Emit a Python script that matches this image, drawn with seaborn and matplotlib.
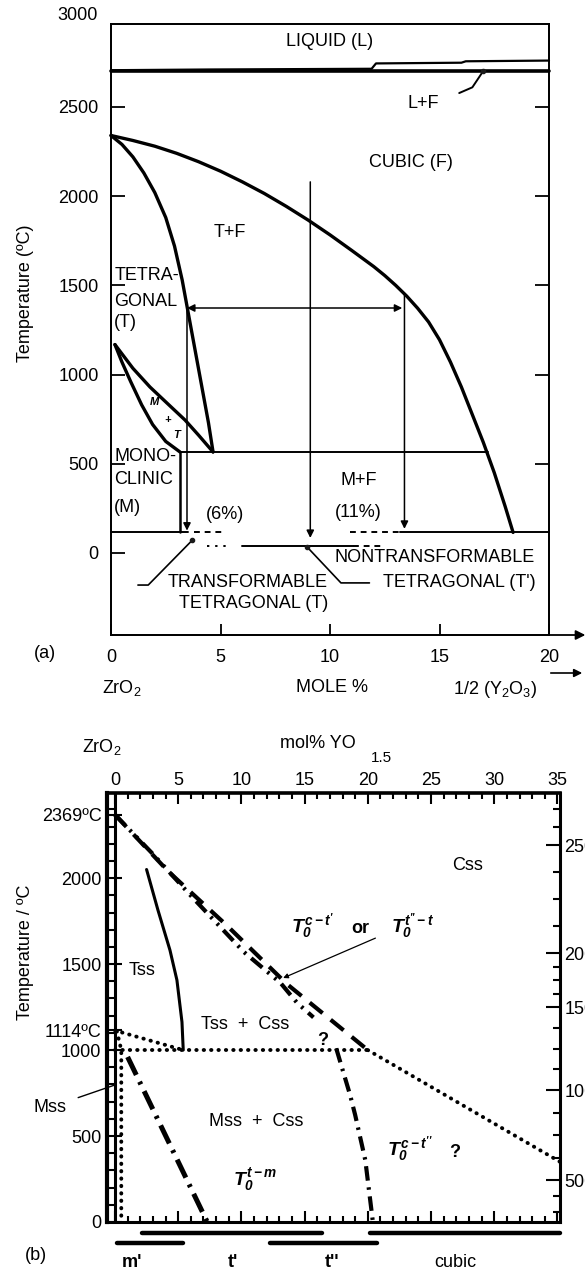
import numpy as np
import pandas as pd
import matplotlib
matplotlib.use("Agg")
import matplotlib.pyplot as plt
import seaborn as sns

# ---------------- panel (a) data ----------------
a_liq_lower_x = [0, 20]
a_liq_lower_T = [2702, 2702]
a_liq_upper_x = [0, 4.5, 11.9, 12.1, 16.0, 16.2, 20]
a_liq_upper_T = [2706, 2710, 2714, 2744, 2748, 2756, 2760]
a_cubic_x = [0, 1, 2, 3, 4, 5, 6, 7, 8, 9, 10, 11, 12, 12.5, 13, 13.5, 14, 14.5,
             15, 15.5, 16, 16.5, 17, 17.5, 18, 18.36]
a_cubic_T = [2340, 2312, 2280, 2240, 2193, 2140, 2080, 2015, 1943, 1866, 1783, 1695, 1605,
             1555, 1500, 1440, 1372, 1295, 1195, 1070, 930, 775, 620, 450, 260, 115]
a_tetra_x = [0, 0.5, 1.0, 1.5, 2.0, 2.5, 2.9, 3.25, 3.55, 3.85, 4.15, 4.45, 4.66]
a_tetra_T = [2340, 2290, 2220, 2130, 2020, 1880, 1720, 1530, 1330, 1130, 930, 730, 566]
a_mt_upper_x = [0.18, 1.0, 1.78, 2.6, 3.38, 4.0, 4.66]
a_mt_upper_T = [1168, 1035, 930, 835, 745, 660, 566]
a_mt_lower_x = [0.18, 0.5, 0.9, 1.4, 1.9, 2.5, 3.15]
a_mt_lower_T = [1168, 1070, 960, 830, 720, 625, 566]
a_eutectoid_x = [3.15, 17.2]
a_eutectoid_T = [566, 566]
a_mono_x = [3.15, 3.15]
a_mono_T = [566, 118]
# base lines: (x0, x1, T, style)
a_base_segments = [(0, 3.5, 118, "solid"), (3.8, 5.1, 118, "dashed"),
                   (10.9, 13.2, 118, "dashed"), (13.2, 20, 118, "solid"),
                   (4.4, 5.5, 40, "dotted"), (6.0, 11.05, 40, "solid"),
                   (11.05, 12.4, 40, "dashed")]
# arrows: (x_start, T_start, x_end, T_end, style)
a_arrows = [(3.47, 1373, 3.47, 125, "-|>"), (9.1, 2080, 9.1, 84, "-|>"),
            (13.4, 1446, 13.4, 135, "-|>"), (3.47, 1373, 13.3, 1373, "<|-|>")]
a_lf_leader_x = [15.9, 16.5, 17.0]
a_lf_leader_T = [2578, 2610, 2702]
a_trans_leader_x = [1.23, 1.7, 3.7]
a_trans_leader_T = [-180, -180, 70]
a_nontrans_leader_x = [8.95, 10.5, 11.8]
a_nontrans_leader_T = [34, -168, -168]
a_labels = [("LIQUID (L)", 10.0, 2865, "center"), ("L+F", 14.25, 2522, "center"),
            ("CUBIC (F)", 13.7, 2186, "center"), ("T+F", 5.43, 1794, "center"),
            ("TETRA-", 0.15, 1553, "left"), ("GONAL", 0.15, 1407, "left"),
            ("(T)", 0.15, 1290, "left"), ("MONO-", 0.15, 538, "left"),
            ("CLINIC", 0.15, 409, "left"), ("(M)", 0.15, 252, "left"),
            ("(6%)", 5.2, 213, "center"), ("M+F", 11.3, 404, "center"),
            ("(11%)", 11.3, 224, "center"),
            ("TRANSFORMABLE", 6.26, -168, "center"), ("TETRAGONAL (T)", 6.5, -285, "center"),
            ("NONTRANSFORMABLE", 14.8, -28, "center"), ("TETRAGONAL (T')", 15.9, -163, "center")]
a_small_labels = [("M", 2.0, 846), ("+", 2.6, 745), ("T", 3.0, 661)]
a_yticks = [0, 500, 1000, 1500, 2000, 2500]
a_xticks = [0, 5, 10, 15, 20]

# ---------------- panel (b) data ----------------
b_tss_x = [2.5, 3.4, 4.35, 4.9, 5.3, 5.4]
b_tss_T = [2050, 1814, 1581, 1407, 1163, 1000]
b_ct1_x = [0, 4.2, 8.9, 13.6, 20.0]
b_ct1_T = [2369, 2040, 1721, 1384, 1000]
b_tt_x = [0, 3.0, 6.1, 10.2, 13.1, 14.4, 15.7]
b_tt_T = [2369, 2140, 1890, 1570, 1390, 1275, 1190]
b_ct2_x = [17.5, 18.6, 19.0, 19.8, 20.4]
b_ct2_T = [1010, 738, 622, 360, 0]
b_tm_x = [1.0, 7.3]
b_tm_T = [960, 0]
b_eut_x = [0, 5.4]
b_eut_T = [1114, 1000]
b_h1000_x = [0, 20]
b_h1000_T = [1000, 1000]
b_slope_x = [20, 35.2]
b_slope_T = [1000, 350]
b_mss_x = [0.15, 0.5, 0.5]
b_mss_T = [1110, 1000, 0]
b_xticks = [0, 5, 10, 15, 20, 25, 30, 35]
b_yticks = [0, 500, 1000, 1114, 1500, 2000, 2369]
b_yticklabels = ["0", "500", "1000", "1114ºC", "1500", "2000", "2369ºC"]
b_right_ticks = [2192, 1564, 1250, 767, 244]
b_right_labels = ["2500", "2000", "1500", "1000", "500"]
b_ranges = [("m'", 0.2, 5.4, -122, 1.35), ("t'", 2.1, 16.4, -64, 9.3),
            ("t''", 12.3, 20.7, -122, 17.2), ("cubic", 20.2, 35.2, -64, 26.9)]
b_labels = [("Css", 27.9, 2075), ("Tss", 2.15, 1465), ("Tss  +  Css", 10.3, 1151),
            ("?", 16.4, 1058), ("Mss  +  Css", 11.2, 587), ("?", 26.9, 407),
            ("or", 19.4, 1709)]
b_T0_labels = [(r"$T_0^{t-m}$", 9.3, 244), (r"$T_0^{c-t''}$", 21.5, 419),
               (r"$T_0^{c-t'}$", 13.9, 1715), (r"$T_0^{t''-t}$", 21.8, 1715)]

# ---------------- style ----------------
sns.set_theme(style="ticks", rc={"axes.edgecolor": "black", "text.color": "black",
                                 "xtick.color": "black", "ytick.color": "black",
                                 "axes.labelcolor": "black"})
plt.rcParams["font.family"] = ["Liberation Sans", "DejaVu Sans"]
plt.rcParams["mathtext.fontset"] = "custom"
plt.rcParams["mathtext.rm"] = "Liberation Sans:bold:italic"
plt.rcParams["mathtext.it"] = "Liberation Sans:bold:italic"
plt.rcParams["mathtext.bf"] = "Liberation Sans:bold"

FS = 13
W, H = 585, 1270
fig = plt.figure(figsize=(W / 100, H / 100), dpi=100)
fig.patch.set_facecolor("white")


def px(x, y):
    return x / W, 1 - y / H


def line(ax, x, y, lw=2.2, ls="-", **kw):
    df = pd.DataFrame({"x": x, "y": y})
    sns.lineplot(data=df, x="x", y="y", ax=ax, sort=False, estimator=None,
                 color="black", lw=lw, **kw)
    ln = ax.lines[-1]
    ln.set_linestyle(ls)
    ln.set_clip_on(False)
    ln.set_solid_joinstyle("round")
    ax.set_xlabel("")
    ax.set_ylabel("")
    return ln


# ================= panel (a) =================
axA = fig.add_axes([111 / W, 1 - 635 / H, 438 / W, 611 / H])
axA.set_xlim(0, 20)
axA.set_ylim(-460, 2965)
for s in axA.spines.values():
    s.set_linewidth(1.3)
axA.set_xticks(a_xticks)
axA.set_yticks(a_yticks)
axA.tick_params(axis="y", direction="in", length=10, width=1.3, labelsize=FS, pad=9)
axA.tick_params(axis="x", direction="in", length=8, width=1.3, labelsize=FS, pad=10)
axA2 = axA.twinx()
axA2.set_ylim(axA.get_ylim())
axA2.set_yticks(a_yticks[1:])
axA2.tick_params(axis="y", direction="in", length=10, width=1.3, labelright=False)
axA2.grid(False)

line(axA, a_liq_lower_x, a_liq_lower_T, lw=2.6)
line(axA, a_liq_upper_x, a_liq_upper_T, lw=1.6)
line(axA, a_cubic_x, a_cubic_T, lw=2.4)
line(axA, a_tetra_x, a_tetra_T, lw=2.4)
line(axA, a_mt_upper_x, a_mt_upper_T, lw=2.4)
line(axA, a_mt_lower_x, a_mt_lower_T, lw=2.4)
line(axA, a_eutectoid_x, a_eutectoid_T, lw=1.4)
line(axA, a_mono_x, a_mono_T, lw=1.8)
styles = {"solid": "-", "dashed": (0, (3, 2.5)), "dotted": (0, (1.2, 3))}
for x0, x1, T, st in a_base_segments:
    line(axA, [x0, x1], [T, T], lw=1.4, ls=styles[st])
for xs, Ts, xe, Te, st in a_arrows:
    axA.annotate("", xy=(xe, Te), xytext=(xs, Ts),
                 arrowprops=dict(arrowstyle=st, lw=1.1, color="black",
                                 mutation_scale=11, shrinkA=0, shrinkB=0))
line(axA, a_lf_leader_x, a_lf_leader_T, lw=1.4)
axA.plot(a_lf_leader_x[-1], a_lf_leader_T[-1], "ko", ms=3)
line(axA, a_trans_leader_x, a_trans_leader_T, lw=1.2)
axA.plot(a_trans_leader_x[-1], a_trans_leader_T[-1], "ko", ms=3)
line(axA, a_nontrans_leader_x, a_nontrans_leader_T, lw=1.2)
axA.plot(a_nontrans_leader_x[0], a_nontrans_leader_T[0], "ko", ms=3)
for t, x, T, ha in a_labels:
    axA.text(x, T, t, ha=ha, va="center", fontsize=FS)
for t, x, T in a_small_labels:
    axA.text(x, T, t, ha="center", va="center", fontsize=8, fontweight="bold",
             fontstyle="italic")
# bottom axis arrow
axA.annotate("", xy=(1.083, 0), xytext=(1.0, 0), xycoords="axes fraction",
             arrowprops=dict(arrowstyle="-|>", lw=1.3, color="black",
                             mutation_scale=14, shrinkA=0, shrinkB=0),
             annotation_clip=False)

fig.text(*px(98, 15), "3000", ha="right", va="center", fontsize=FS)
fig.text(*px(26, 293), "Temperature (ºC)", rotation=90, ha="center", va="center", fontsize=FS)
fig.text(*px(45, 653), "(a)", ha="center", va="center", fontsize=FS)
fig.text(*px(122, 688), r"ZrO$_\mathregular{2}$", ha="center", va="center", fontsize=FS)
fig.text(*px(332, 688), "MOLE %", ha="center", va="center", fontsize=FS)
fig.text(*px(495, 690), r"1/2 (Y$_\mathregular{2}$O$_\mathregular{3}$)", ha="center",
         va="center", fontsize=FS)
fig.add_artist(matplotlib.patches.FancyArrowPatch(
    px(548, 673), px(585, 673), transform=fig.transFigure, arrowstyle="-|>",
    mutation_scale=12, lw=1.2, color="black"))

# ================= panel (b) =================
axB = fig.add_axes([107 / W, 1 - 1222 / H, 453 / W, 429 / H])
axB.set_xlim(-0.63, 35.2)
axB.set_ylim(0, 2495)
axB.spines["left"].set_linewidth(3.0)
axB.spines["top"].set_linewidth(2.6)
axB.spines["right"].set_linewidth(2.2)
axB.spines["bottom"].set_linewidth(2.2)
axB.set_xticks(b_xticks)
axB.set_xticks(np.arange(0, 36, 1), minor=True)
axB.xaxis.set_ticks_position("both")
axB.tick_params(axis="x", which="both", direction="in", labeltop=True,
                labelbottom=False, labelsize=FS, pad=3, width=1.5)
axB.tick_params(axis="x", which="major", length=8)
axB.tick_params(axis="x", which="minor", length=4)
axB.set_yticks(b_yticks)
axB.set_yticklabels(b_yticklabels)
axB.set_yticks(np.arange(0, 2500, 100), minor=True)
axB.tick_params(axis="y", which="both", direction="in", labelsize=FS, pad=4,
                width=1.5, right=False)
axB.tick_params(axis="y", which="major", length=11)
axB.tick_params(axis="y", which="minor", length=5)
axB2 = axB.twinx()
axB2.set_ylim(axB.get_ylim())
axB2.set_yticks(b_right_ticks)
axB2.set_yticklabels(b_right_labels)
rt = sorted(b_right_ticks)
axB2.set_yticks(np.concatenate([np.linspace(a, b, 5)[1:-1] for a, b in zip(rt[:-1], rt[1:])]
                               + [np.array([60, 150]), np.array([2300, 2400])]), minor=True)
axB2.tick_params(axis="y", which="both", direction="in", labelsize=FS, pad=3, width=1.5)
axB2.tick_params(axis="y", which="major", length=10)
axB2.tick_params(axis="y", which="minor", length=5)
axB2.grid(False)
for s in axB2.spines.values():
    s.set_visible(False)

axB.axvline(0, color="black", lw=2.2)
line(axB, b_tss_x, b_tss_T, lw=2.2)
line(axB, b_ct1_x, b_ct1_T, lw=3.0, ls=(0, (4, 2.5)))
line(axB, b_tt_x, b_tt_T, lw=3.0, ls=(0, (3.5, 1.6, 0.6, 1.6, 0.6, 1.6)))
line(axB, b_ct2_x, b_ct2_T, lw=3.0, ls=(0, (3.5, 1.6, 0.6, 1.6)))
line(axB, b_tm_x, b_tm_T, lw=3.6, ls=(0, (4, 1.5, 0.6, 1.5)))
for xs, Ts in [(b_eut_x, b_eut_T), (b_h1000_x, b_h1000_T), (b_slope_x, b_slope_T),
               (b_mss_x, b_mss_T)]:
    ln = line(axB, xs, Ts, lw=2.8, ls=(0, (0.1, 1.8)))
    ln.set_dash_capstyle("round")
for t, x, T in b_labels:
    fw = "bold" if t in ("?", "or") else "normal"
    axB.text(x, T, t, ha="center", va="center", fontsize=FS, fontweight=fw)
for t, x, T in b_T0_labels:
    axB.text(x, T, t, ha="left", va="center", fontsize=14)
axB.annotate("", xy=(13.3, 1419), xytext=(20.6, 1651),
             arrowprops=dict(arrowstyle="-|>", lw=0.9, color="black",
                             mutation_scale=7, shrinkA=0, shrinkB=0))
axB.annotate("Mss", xy=(0.0, 797), xytext=(-5.1, 668), fontsize=FS, ha="center",
             va="center", annotation_clip=False,
             arrowprops=dict(arrowstyle="-", lw=1.0, color="black", shrinkA=6, shrinkB=0))
for lab, x0, x1, T, xl in b_ranges:
    ln = line(axB, [x0, x1], [T, T], lw=3.2)
    ln.set_solid_capstyle("round")
    axB.text(xl, -233, lab, ha="center", va="center", fontsize=FS,
             fontweight="normal" if lab == "cubic" else "bold", clip_on=False)
axB.set_xlabel("")
axB.set_ylabel("")
axA.set_xlabel("")
axA.set_ylabel("")

fig.text(*px(26, 952), "Temperature / ºC", rotation=90, ha="center", va="center", fontsize=FS)
fig.text(*px(102, 747), r"ZrO$_\mathregular{2}$", ha="center", va="center", fontsize=FS)
fig.text(*px(318, 743), "mol% YO", ha="center", va="center", fontsize=FS)
fig.text(*px(381, 758), "1.5", ha="center", va="center", fontsize=11)
fig.text(*px(36, 1255), "(b)", ha="center", va="center", fontsize=FS)

fig.savefig("out.png", dpi=100, facecolor="white")
